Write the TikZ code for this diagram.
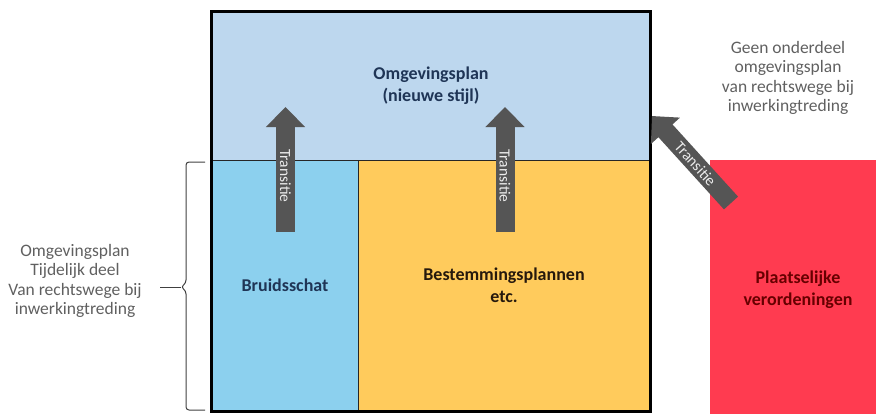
\documentclass[tikz,border=0pt]{standalone}
\usepackage{fontspec}
\setmainfont{Carlito}
\usetikzlibrary{arrows.meta}
\definecolor{planblauw}{HTML}{BDD7EE}
\definecolor{schatblauw}{HTML}{8CD0EE}
\definecolor{bpgeel}{HTML}{FFCB5C}
\definecolor{verordrood}{HTML}{FF3B50}
\definecolor{pijlgrijs}{HTML}{555555}
\definecolor{tekstgrijs}{HTML}{606060}
\definecolor{donkerblauw}{HTML}{1F3556}
\begin{document}
\begin{tikzpicture}[x=1pt,y=-1pt,
    vlak/.style={draw=black!85, line width=1pt, inner sep=0pt, align=center, font=\bfseries\fontsize{18}{22}\selectfont},
    transitie/.style={draw=pijlgrijs, line width=19pt, -{Triangle[length=20pt,width=38pt]}},
    pijltekst/.style={text=white!85!gray, inner sep=0pt, font=\fontsize{15.5}{15.5}\selectfont},
    noot/.style={text=tekstgrijs, align=center, font=\fontsize{17.5}{19.5}\selectfont}]
    \useasboundingbox (0,0) rectangle (876,413);
    \clip (0,0) rectangle (876,413);
    \node[vlak, fill=planblauw, text=donkerblauw, minimum width=438pt, minimum height=148pt] (plan) at (431,86) {Omgevingsplan\\(nieuwe stijl)};
    \node[vlak, fill=schatblauw, text=donkerblauw, minimum width=146pt, minimum height=251pt] (schat) at (285,285.5) {Bruidsschat};
    \node[vlak, fill=bpgeel, text=black!80!brown, minimum width=292pt, minimum height=251pt] (bp) at (504,285.5) {Bestemmingsplannen\\etc.};
    \node[vlak, draw=none, fill=verordrood, text=black!60!red, minimum width=176pt, minimum height=260pt] (verord) at (798,290) {Plaatselijke\\verordeningen};
    \draw[black, line width=2.5pt] (plan.north west) rectangle (bp.south east);
    \coordinate (s1) at (285.5,232);
    \coordinate (e1) at (285.5,107);
    \coordinate (s2) at (505,232);
    \coordinate (e2) at (505,107);
    \coordinate (s3) at (731,203);
    \coordinate (e3) at (652,116);
    \draw[transitie] (s1) -- node[pos=0.45, pijltekst, rotate=-90] {Transitie} (e1);
    \draw[transitie] (s2) -- node[pos=0.45, pijltekst, rotate=-90] {Transitie} (e2);
    \draw[transitie] (s3) -- node[pos=0.45, pijltekst, sloped] {Transitie} (e3);
    \node[noot] (tijdelijk) at (75,281) {Omgevingsplan\\Tijdelijk deel\\Van rechtswege bij\\inwerkingtreding};
    \node[noot] (geendeel) at (788,78) {Geen onderdeel\\omgevingsplan\\van rechtswege bij\\inwerkingtreding};
    \draw[black!75, line width=1pt, rounded corners=3pt] (205,162) -- (186,162) -- (186,283) -- (181,287) -- (186,291) -- (186,410) -- (205,410);
    \draw[black!75, line width=1pt] (181,287) -- (160,287);
\end{tikzpicture}
\end{document}
